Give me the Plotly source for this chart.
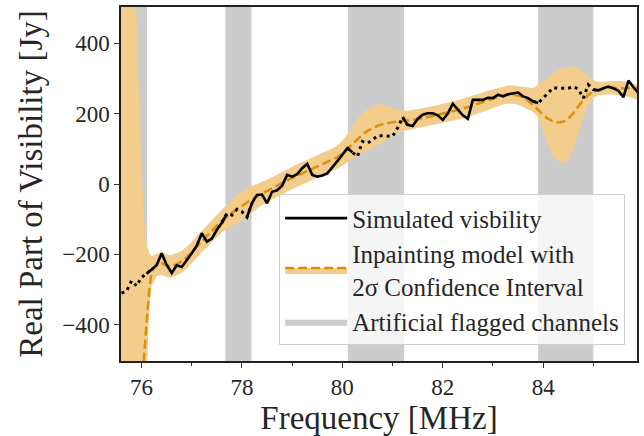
import plotly.graph_objects as go

# ---------------- data ----------------
sim_freq = [75.6, 75.7, 75.8, 75.9, 76.0, 76.1, 76.2, 76.3, 76.4, 76.5, 76.6, 76.7, 76.8, 76.9,
            77.0, 77.1, 77.2, 77.3, 77.4, 77.5, 77.6, 77.7, 77.8, 77.9, 78.0, 78.1, 78.2, 78.3,
            78.4, 78.5, 78.6, 78.7, 78.8, 78.9, 79.0, 79.1, 79.2, 79.3, 79.4, 79.5, 79.6, 79.7,
            79.8, 79.9, 80.0, 80.1, 80.2, 80.3, 80.4, 80.5, 80.6, 80.7, 80.8, 80.9, 81.0, 81.1,
            81.2, 81.3, 81.4, 81.5, 81.6, 81.7, 81.8, 81.9, 82.0, 82.1, 82.2, 82.3, 82.4, 82.5,
            82.6, 82.7, 82.8, 82.9, 83.0, 83.1, 83.2, 83.3, 83.4, 83.5, 83.6, 83.7, 83.8, 83.9,
            84.0, 84.1, 84.2, 84.3, 84.4, 84.5, 84.6, 84.7, 84.8, 84.9, 85.0, 85.1, 85.2, 85.3,
            85.4, 85.5, 85.6, 85.7, 85.8, 85.9]
sim_vis = [-310, -305, -275, -290, -265, -255, -242, -231, -197, -230, -253, -231, -236, -217,
           -197, -175, -140, -164, -155, -130, -110, -84, -88, -72, -79, -94, -54, -31,
           -30, -55, -22, -18, -5, 26, 21, 28, 45, 57, 26, 21, 24, 30,
           49, 65, 83, 102, 90, 78, 121, 116, 125, 137, 137, 137, 135, 159,
           190, 168, 165, 185, 197, 201, 201, 195, 182, 200, 228, 211, 195, 185,
           239, 239, 239, 245, 244, 254, 249, 255, 258, 260, 249, 244, 235, 230,
           244, 258, 274, 272, 271, 272, 277, 270, 244, 282, 268, 266, 272, 277,
           272, 265, 247, 294, 275, 258]

# flagged channel ranges (MHz)
flag_start = [75.55, 77.67, 80.11, 83.90]
flag_end = [76.11, 78.19, 81.23, 85.00]

model_freq = [75.6, 75.7, 75.8, 75.9, 75.95, 76.0, 76.05, 76.1, 76.15, 76.2, 76.3, 76.4, 76.5,
              76.6, 76.7, 76.8, 76.9, 77.0, 77.1, 77.2, 77.3, 77.4, 77.5, 77.6, 77.7, 77.8,
              77.9, 78.0, 78.1, 78.2, 78.3, 78.4, 78.5, 78.6, 78.7, 78.8, 78.9, 79.0, 79.1,
              79.2, 79.3, 79.4, 79.5, 79.6, 79.7, 79.8, 79.9, 80.0, 80.1, 80.2, 80.3, 80.4,
              80.5, 80.6, 80.7, 80.8, 80.9, 81.0, 81.1, 81.2, 81.3, 81.4, 81.5, 81.6, 81.7,
              81.8, 81.9, 82.0, 82.1, 82.2, 82.3, 82.4, 82.5, 82.6, 82.7, 82.8, 82.9, 83.0,
              83.1, 83.2, 83.3, 83.4, 83.5, 83.6, 83.7, 83.8, 83.9, 84.0, 84.1, 84.2, 84.3,
              84.4, 84.5, 84.6, 84.7, 84.8, 84.9, 85.0, 85.1, 85.2, 85.3, 85.4, 85.5, 85.6,
              85.7, 85.8, 85.9]
model_mean = [-1500, -1400, -1200, -950, -800, -640, -490, -395, -305, -250, -228, -225, -232,
              -233, -228, -220, -208, -195, -178, -162, -148, -133, -118, -105, -93, -82,
              -72, -62, -52, -43, -35, -27, -20, -13, -5, 3, 10, 17, 24,
              31, 38, 44, 50, 56, 62, 68, 76, 86, 100, 114, 128, 140,
              151, 159, 165, 170, 173, 176, 178, 179, 180, 182, 184, 187, 190,
              193, 196, 199, 202, 206, 210, 214, 218, 223, 228, 233, 238, 243,
              248, 252, 254, 254, 251, 246, 237, 225, 211, 196, 185, 178, 175,
              177, 186, 201, 220, 239, 253, 263, 268, 271, 273, 273, 272, 272,
              273, 273, 272]
model_upper = [2500, 1400, 850, 470, 230, 30, -100, -170, -195, -205, -198, -195, -200,
               -202, -197, -190, -178, -165, -148, -132, -118, -103, -88, -74, -58, -43,
               -30, -20, -12, -6, 0, 6, 12, 19, 27, 35, 42, 49, 56,
               63, 70, 76, 82, 88, 94, 101, 110, 122, 142, 165, 185, 202,
               213, 221, 226, 226, 222, 216, 210, 208, 208, 210, 212, 215, 218,
               221, 224, 227, 230, 234, 238, 242, 246, 250, 255, 260, 265, 269,
               274, 278, 280, 280, 278, 275, 272, 272, 282, 292, 303, 315, 324,
               330, 333, 333, 328, 318, 305, 295, 290, 291, 292, 293, 293, 292,
               290, 285, 280]
model_lower = [-3000, -3000, -3000, -3000, -3000, -3000, -3000, -560, -360, -290, -262, -258, -264,
               -266, -260, -252, -240, -226, -210, -194, -180, -165, -150, -137, -128, -122,
               -114, -104, -92, -80, -70, -60, -52, -45, -37, -29, -22, -15, -8,
               -1, 6, 12, 18, 24, 30, 36, 43, 52, 62, 72, 80, 88,
               95, 103, 110, 118, 127, 136, 144, 150, 153, 155, 157, 160, 163,
               166, 169, 172, 175, 178, 182, 186, 190, 195, 200, 205, 210, 216,
               222, 226, 228, 228, 225, 218, 210, 205, 190, 150, 110, 80, 63,
               58, 68, 100, 145, 190, 225, 245, 252, 254, 255, 254, 252, 250,
               248, 243, 238]

x_ticks = [76, 78, 80, 82, 84]
y_ticks = [-400, -200, 0, 200, 400]

# ---------------- styling ----------------
FONT = "Liberation Serif"
TXT = "#262626"
ORANGE_FILL = "rgb(243,205,140)"
ORANGE_LINE = "rgb(222,143,5)"
GREY = "rgb(204,204,204)"


def in_flag(f):
    return any(a - 1e-9 <= f <= b + 1e-9 for a, b in zip(flag_start, flag_end))


# solid (unflagged) and dotted (flagged) pieces of the simulated visibility
solid_y, dot_y = [], []
n = len(sim_freq)
flagged = [in_flag(f) for f in sim_freq]
for i in range(n):
    fl = flagged[i]
    nb_un = (i > 0 and not flagged[i - 1]) or (i < n - 1 and not flagged[i + 1])
    nb_fl = (i > 0 and flagged[i - 1]) or (i < n - 1 and flagged[i + 1])
    solid_y.append(sim_vis[i] if (not fl or nb_un) else None)
    dot_y.append(sim_vis[i] if (fl or nb_fl) else None)

band_x, band_y = [], []
for a, b in zip(flag_start, flag_end):
    band_x += [a, b, b, a, a, None]
    band_y += [-2000, -2000, 2000, 2000, -2000, None]

fig = go.Figure()
fig.add_trace(go.Scatter(x=band_x, y=band_y, fill="toself", fillcolor=GREY, mode="lines",
                         line=dict(width=0, color=GREY), name="Artificial flagged channels",
                         legendrank=3, legendgroup="c", hoverinfo="skip"))
fig.add_trace(go.Scatter(x=model_freq, y=model_lower, mode="lines", line=dict(width=0),
                         showlegend=False, hoverinfo="skip"))
fig.add_trace(go.Scatter(x=model_freq, y=model_upper, mode="lines", line=dict(width=0),
                         fill="tonexty", fillcolor=ORANGE_FILL, showlegend=False,
                         hoverinfo="skip"))
fig.add_trace(go.Scatter(x=model_freq, y=model_mean, mode="lines",
                         line=dict(color=ORANGE_LINE, width=2.5, dash="9px,4px"),
                         showlegend=False))
# legend proxy for model + CI
fig.add_trace(go.Scatter(x=[None], y=[None], mode="lines", fill="toself", fillcolor=ORANGE_FILL,
                         line=dict(color=ORANGE_LINE, width=2.5, dash="9px,4px"),
                         name="Inpainting model with<br>2σ Confidence Interval", legendrank=2,
                         legendgroup="b"))
fig.add_trace(go.Scatter(x=sim_freq, y=dot_y, mode="lines", connectgaps=False,
                         line=dict(color="black", width=3, dash="3px,4px"),
                         showlegend=False))
fig.add_trace(go.Scatter(x=sim_freq, y=solid_y, mode="lines", connectgaps=False,
                         line=dict(color="black", width=2.6), name="Simulated visbility",
                         legendrank=1, legendgroup="a"))

axis_common = dict(showline=True, linecolor="#222", linewidth=1.5, mirror=True,
                   ticks="outside", ticklen=5, tickwidth=1.2, tickcolor="#333",
                   showgrid=False, zeroline=False, automargin=False,
                   tickfont=dict(family=FONT, size=23, color=TXT))
fig.update_xaxes(range=[75.59, 85.87], tickvals=x_ticks,
                 minor=dict(ticks="outside", ticklen=3, tickwidth=1, tickcolor="#333",
                            dtick=1, tick0=75, showgrid=False),
                 title=dict(text="Frequency [MHz]", font=dict(family=FONT, size=33, color=TXT),
                            standoff=4),
                 **axis_common)
fig.update_yaxes(range=[-503, 503], tickvals=y_ticks,
                 title=dict(text="Real Part of Visibility [Jy]",
                            font=dict(family=FONT, size=33, color=TXT), standoff=10),
                 **axis_common)
fig.update_layout(
    width=644, height=436,
    margin=dict(l=121, r=7, t=7, b=75),
    plot_bgcolor="white", paper_bgcolor="white",
    legend=dict(x=0.977, y=0.044, xanchor="right", yanchor="bottom",
                bgcolor="rgba(255,255,255,0.8)", bordercolor="#d0d0d0", borderwidth=1,
                font=dict(family=FONT, size=25, color=TXT), itemwidth=62,
                traceorder="normal", tracegroupgap=6),
)
fig.write_html("out.html", post_script="document.body.style.margin='0';",
               config={"displayModeBar": False})
